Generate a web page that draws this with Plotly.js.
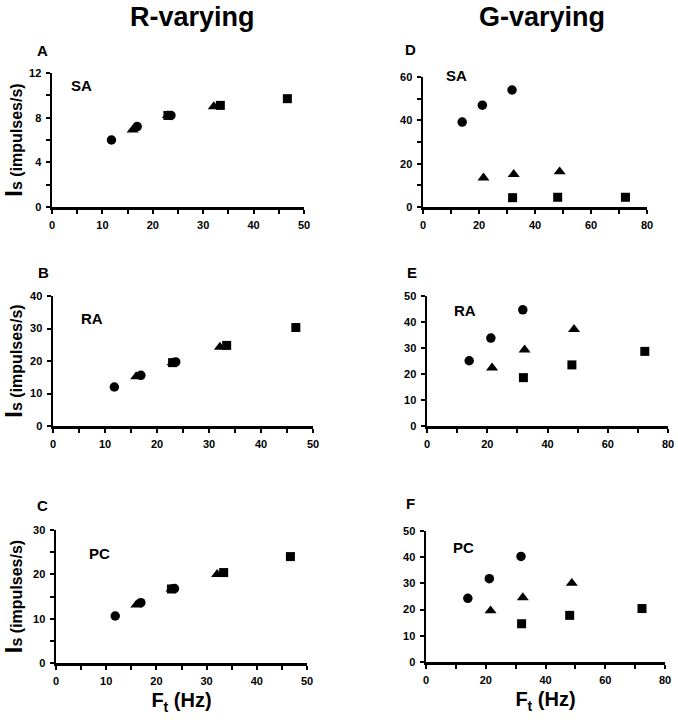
<!DOCTYPE html>
<html>
<head>
<meta charset="utf-8">
<script src="https://cdn.plot.ly/plotly-3.0.1.min.js"></script>
<style>html,body{margin:0;padding:0;background:#fff;}#chart{width:678px;height:720px;}</style>
</head>
<body>
<div id="chart"></div>
<script>
// ---------- data ----------
// R-varying: stimulus frequency Ft (Hz) for each symbol group
const rFtCircle   = [11.8, 16.9, 23.6];
const rFtTriangle = [16.0, 23.0, 32.1];
const rFtSquare   = [23.0, 33.4, 46.7];
// R-varying Is (impulses/s)
const rSA_circle   = [6.0, 7.2, 8.2];
const rSA_triangle = [6.9, 8.2, 9.0];
const rSA_square   = [8.2, 9.1, 9.7];
const rRA_circle   = [12.0, 15.6, 19.7];
const rRA_triangle = [15.2, 19.5, 24.3];
const rRA_square   = [19.5, 24.8, 30.3];
const rPC_circle   = [10.6, 13.6, 16.8];
const rPC_triangle = [13.1, 16.7, 20.0];
const rPC_square   = [16.7, 20.4, 24.0];

// G-varying: stimulus frequency Ft (Hz)
const gFtCircle   = [14.0, 21.2, 31.8];
const gFtTriangle = [21.6, 32.4, 48.8];
const gFtSquare   = [32.0, 48.1, 72.3];
// G-varying Is (impulses/s)
const gSA_circle   = [39.2, 47.0, 54.0];
const gSA_triangle = [13.5, 15.1, 16.3];
const gSA_square   = [4.3, 4.5, 4.5];
const gRA_circle   = [25.1, 33.8, 44.7];
const gRA_triangle = [22.4, 29.3, 37.2];
const gRA_square   = [18.6, 23.5, 28.7];
const gPC_circle   = [24.3, 31.8, 40.3];
const gPC_triangle = [19.6, 24.6, 30.1];
const gPC_square   = [14.6, 17.8, 20.4];

// tick labels
const xTicksR  = [0, 10, 20, 30, 40, 50];
const xTicksG  = [0, 20, 40, 60, 80];
const yTicksA  = [0, 4, 8, 12];
const yTicksB  = [0, 10, 20, 30, 40];
const yTicksC  = [0, 10, 20, 30];
const yTicksD  = [0, 20, 40, 60];
const yTicksE  = [0, 10, 20, 30, 40, 50];
const yTicksF  = [0, 10, 20, 30, 40, 50];

const columnTitles = ['R-varying', 'G-varying'];
const panelLetters = ['A', 'B', 'C', 'D', 'E', 'F'];
const afferentLabels = ['SA', 'RA', 'PC', 'SA', 'RA', 'PC'];

// ---------- layout helpers ----------
const W = 678, H = 720;
const FONT = 'Liberation Sans, Arial, Helvetica, sans-serif';
const px = v => v / W;
const py = v => 1 - v / H;

// plot areas in pixels [x0, x1, yTop, yBottom]
const boxes = [
  [52, 304, 73, 207],   // A
  [53, 313, 296, 426],  // B
  [56, 307, 530, 663],  // C
  [423, 647, 77, 207],  // D
  [427, 668, 296, 426], // E
  [426, 665, 531, 662]  // F
];

const xRanges = [[0,50],[0,50],[0,50],[0,80],[0,80],[0,80]];
const xTicks  = [xTicksR, xTicksR, xTicksR, xTicksG, xTicksG, xTicksG];
const xMinor  = [5,5,5,10,10,10];
const yRanges = [[0,12],[0,40],[0,30],[0,60],[0,50],[0,50]];
const yTicks  = [yTicksA, yTicksB, yTicksC, yTicksD, yTicksE, yTicksF];
const yMinor  = [2,null,5,10,null,null];

const panelsData = [
  [rFtCircle, rSA_circle, rFtTriangle, rSA_triangle, rFtSquare, rSA_square],
  [rFtCircle, rRA_circle, rFtTriangle, rRA_triangle, rFtSquare, rRA_square],
  [rFtCircle, rPC_circle, rFtTriangle, rPC_triangle, rFtSquare, rPC_square],
  [gFtCircle, gSA_circle, gFtTriangle, gSA_triangle, gFtSquare, gSA_square],
  [gFtCircle, gRA_circle, gFtTriangle, gRA_triangle, gFtSquare, gRA_square],
  [gFtCircle, gPC_circle, gFtTriangle, gPC_triangle, gFtSquare, gPC_square]
];

const traces = [];
const layout = {
  width: W, height: H,
  margin: {l: 0, r: 0, t: 0, b: 0},
  paper_bgcolor: '#fff', plot_bgcolor: '#fff',
  showlegend: false,
  font: {family: FONT, color: '#000'},
  annotations: []
};

const yTitle = '<b><span style="font-size:24px">I</span>s (impulses/s)</b>';
const xTitle = '<b>F<sub>t</sub> (Hz)</b>';
const bold = arr => arr.map(v => '<b>' + v + '</b>');

function axisBase() {
  return {
    showline: true, linewidth: 2.5, linecolor: '#000',
    ticks: 'outside', ticklen: 4, tickwidth: 2, tickcolor: '#000',
    showgrid: false, zeroline: false, fixedrange: true,
    tickfont: {family: FONT, size: 11, color: '#000'},
    ticklabelstandoff: 2
  };
}

for (let i = 0; i < 6; i++) {
  const n = i + 1;
  const xa = n === 1 ? 'x' : 'x' + n;
  const ya = n === 1 ? 'y' : 'y' + n;
  const d = panelsData[i];
  const mk = [
    {symbol: 'circle', size: 9.5},
    {symbol: 'triangle-up', size: 10.5},
    {symbol: 'square', size: 9}
  ];
  for (let k = 0; k < 3; k++) {
    traces.push({
      type: 'scatter', mode: 'markers',
      x: d[2*k], y: d[2*k+1], xaxis: xa, yaxis: ya,
      marker: Object.assign({color: '#000', line: {width: 0}}, mk[k]),
      cliponaxis: false
    });
  }
  const b = boxes[i];
  const xax = axisBase();
  xax.domain = [px(b[0]), px(b[1])];
  xax.range = xRanges[i];
  xax.tickmode = 'array';
  xax.tickvals = xTicks[i];
  xax.ticktext = bold(xTicks[i]);
  xax.anchor = ya;
  xax.minor = {tick0: 0, dtick: xMinor[i], ticks: 'outside', ticklen: 4, tickwidth: 2, tickcolor: '#000', showgrid: false};
  const yax = axisBase();
  yax.domain = [py(b[3]), py(b[2])];
  yax.range = yRanges[i];
  yax.tickmode = 'array';
  yax.tickvals = yTicks[i];
  yax.ticktext = bold(yTicks[i]);
  yax.anchor = xa;
  if (yMinor[i]) yax.minor = {tick0: 0, dtick: yMinor[i], ticks: 'outside', ticklen: 4, tickwidth: 2, tickcolor: '#000', showgrid: false};
  if (i < 3) {
    yax.title = {text: yTitle, font: {family: FONT, size: 16, color: '#000'}, standoff: 7};
  }
  if (i === 2 || i === 5) {
    xax.title = {text: xTitle, font: {family: FONT, size: 20, color: '#000'}, standoff: 8};
  }
  layout['xaxis' + (n === 1 ? '' : n)] = xax;
  layout['yaxis' + (n === 1 ? '' : n)] = yax;
}

// column titles
const colTitlePos = [[192, 17], [542, 17]];
columnTitles.forEach((t, j) => {
  layout.annotations.push({
    text: '<b>' + t + '</b>', xref: 'paper', yref: 'paper',
    x: px(colTitlePos[j][0]), y: py(colTitlePos[j][1]),
    xanchor: 'center', yanchor: 'middle', showarrow: false,
    font: {family: FONT, size: 27, color: '#000'}
  });
});

// panel letters
const letterPos = [[42, 51], [43, 272], [42, 506], [410, 50], [412, 272], [410, 504]];
panelLetters.forEach((t, j) => {
  layout.annotations.push({
    text: '<b>' + t + '</b>', xref: 'paper', yref: 'paper',
    x: px(letterPos[j][0]), y: py(letterPos[j][1]),
    xanchor: 'center', yanchor: 'middle', showarrow: false,
    font: {family: FONT, size: 15, color: '#000'}
  });
});

// afferent labels
const labelPos = [[81, 85], [92, 318], [99, 553], [456, 76], [465, 310], [463, 547]];
afferentLabels.forEach((t, j) => {
  layout.annotations.push({
    text: '<b>' + t + '</b>', xref: 'paper', yref: 'paper',
    x: px(labelPos[j][0]), y: py(labelPos[j][1]),
    xanchor: 'center', yanchor: 'middle', showarrow: false,
    font: {family: FONT, size: 15, color: '#000'}
  });
});

Plotly.newPlot('chart', traces, layout, {staticPlot: true, displayModeBar: false});
</script>
</body>
</html>
